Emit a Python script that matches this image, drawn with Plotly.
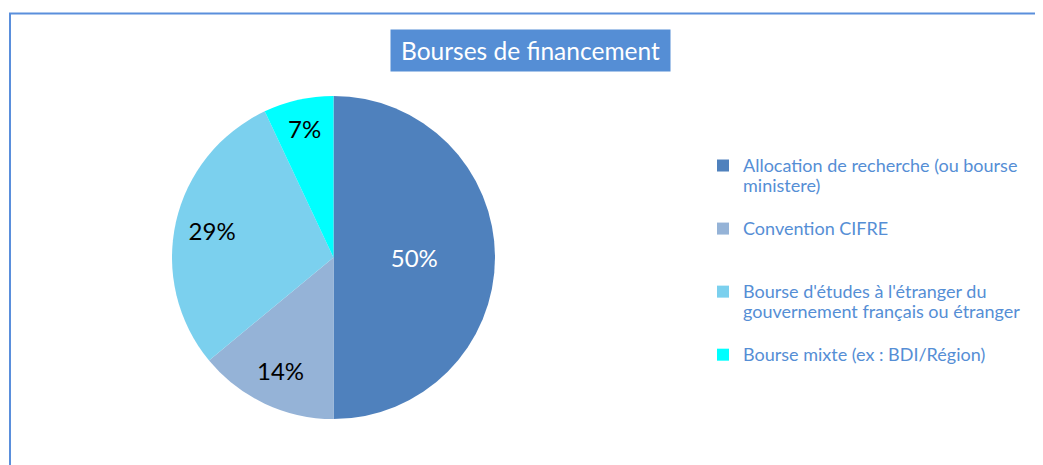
import plotly.graph_objects as go

# Data
categories = [
    "Allocation de recherche (ou bourse|ministere)",
    "Convention CIFRE",
    "Bourse d'études à l'étranger du|gouvernement français ou étranger",
    "Bourse mixte (ex : BDI/Région)",
]
values = [50, 14, 29, 7]
colors = ["#4F81BD", "#95B3D7", "#7BD0EE", "#00FFFF"]
label_colors = ["white", "black", "black", "black"]
title_text = "Bourses de financement"

W, H = 1035, 457
FONT = "Lato"
cx, cy, r = 325.5, 249.5, 161.5

total = sum(values)
pcts = [f"{round(v / total * 100)}%" for v in values]

# legend labels: larger glyphs, padded to equal 3-line entries (except last)
def legend_label(s, pad_lines):
    lines = [f"<span style='font-size:18px'>{t}</span>" for t in s.split("|")]
    lines += [" "] * pad_lines
    return "<br>".join(lines)

n_lines = [len(c.split("|")) for c in categories]
legend_labels = [legend_label(c, (3 - n) if i < len(categories) - 1 else 0)
                 for i, (c, n) in enumerate(zip(categories, n_lines))]

domain = dict(x=[(cx - r) / W, (cx + r) / W], y=[(H - cy - r) / H, (H - cy + r) / H])

fig = go.Figure()
# coloured pie (with the large-slice label)
fig.add_trace(go.Pie(
    labels=legend_labels,
    values=values,
    sort=False, direction="clockwise", rotation=0,
    marker=dict(colors=colors, line=dict(width=0)),
    text=[pcts[0]] + [""] * (len(values) - 1),
    textinfo="text",
    textposition="inside",
    insidetextorientation="horizontal",
    insidetextfont=dict(color=label_colors, size=24, family=FONT),
    hoverinfo="percent",
    domain=domain,
    showlegend=True,
))
# transparent label layer for the smaller slices
fig.add_trace(go.Pie(
    labels=legend_labels,
    values=values,
    sort=False, direction="clockwise", rotation=0,
    hole=0.54,
    marker=dict(colors=["rgba(0,0,0,0)"] * len(values), line=dict(width=0)),
    text=[""] + pcts[1:],
    textinfo="text",
    textposition="inside",
    insidetextorientation="horizontal",
    insidetextfont=dict(color=label_colors, size=24, family=FONT),
    hoverinfo="skip",
    domain=domain,
    showlegend=False,
))

fig.update_layout(
    width=W, height=H,
    margin=dict(l=0, r=0, t=0, b=0),
    paper_bgcolor="white",
    plot_bgcolor="white",
    font=dict(family=FONT),
    showlegend=True,
    legend=dict(
        x=695 / W, y=1 - 141 / H, xanchor="left", yanchor="top",
        font=dict(size=15.4, color="#558ED5", family=FONT),
        valign="top",
        bgcolor="rgba(0,0,0,0)",
        traceorder="normal",
    ),
    annotations=[dict(
        text=title_text,
        x=522.5 / W, y=1 - 42.3 / H, xref="paper", yref="paper",
        xanchor="center", yanchor="middle",
        showarrow=False,
        font=dict(size=24.5, color="white", family=FONT),
        bgcolor="#558ED5",
        width=265, height=27, borderpad=7,
    )],
    shapes=[dict(
        type="rect", xref="paper", yref="paper",
        x0=2 / W, x1=1.2, y0=-0.2, y1=1 - 5.5 / H,
        line=dict(color="#5A8FDC", width=2),
        fillcolor="rgba(0,0,0,0)",
        layer="below",
    )],
)

fig.write_html("out.html")
